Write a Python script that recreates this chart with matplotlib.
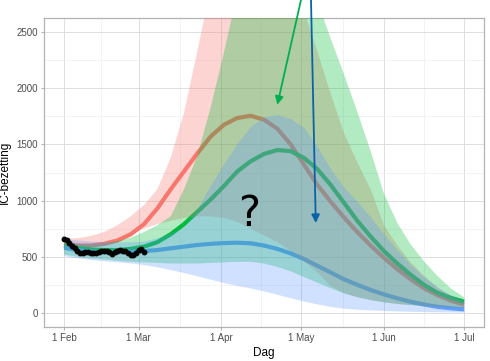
import numpy as np
import matplotlib
matplotlib.use("Agg")
import matplotlib.pyplot as plt
import matplotlib.dates as mdates
from matplotlib.ticker import FixedLocator, MultipleLocator

plt.rcParams['font.family'] = ['Liberation Sans', 'DejaVu Sans']

# x positions: every 5 days from 1 Feb 2021
start = np.datetime64('2021-02-01')
days = np.arange(0, 151, 5)
dates = start + days.astype('timedelta64[D]')

# scenario lines
red_line = [620, 600, 600, 615, 645, 700, 790, 930, 1100, 1260, 1420, 1570, 1675, 1735, 1755, 1720,
            1640, 1500, 1320, 1140, 990, 850, 720, 600, 490, 390, 300, 220, 160, 110, 75]
green_line = [600, 580, 565, 560, 560, 570, 590, 630, 700, 790, 900, 1010, 1130, 1260, 1350, 1415,
              1450, 1440, 1380, 1280, 1140, 980, 820, 680, 550, 440, 340, 250, 180, 135, 100]
blue_line = [580, 560, 545, 540, 540, 545, 550, 560, 575, 590, 605, 615, 622, 625, 620, 600,
             570, 530, 480, 420, 360, 300, 250, 205, 165, 130, 100, 75, 55, 42, 32]

# uncertainty bands
red_lo = [590, 585, 600, 625, 660, 705, 750, 790, 820, 845, 860, 860, 845, 810, 750, 690,
          630, 550, 460, 360, 240, 175, 140, 115, 95, 80, 70, 62, 55, 50, 45]
red_hi = [660, 665, 685, 720, 780, 860, 960, 1100, 1380, 1780, 2330, 2900, 3400, 3800, 4000, 4000,
          3700, 3250, 2690, 2330, 1950, 1600, 1340, 1100, 780, 600, 450, 330, 230, 150, 95]
green_lo = [520, 500, 485, 475, 465, 455, 450, 445, 440, 440, 440, 445, 450, 455, 455, 440,
            410, 370, 320, 270, 220, 175, 140, 115, 95, 80, 70, 62, 55, 50, 45]
green_hi = [630, 615, 610, 620, 640, 670, 720, 780, 860, 1100, 1400, 1830, 2320, 2850, 3300, 3600,
            3700, 3550, 3200, 2780, 2440, 2125, 1790, 1440, 1060, 800, 610, 460, 330, 220, 140]
blue_lo = [510, 490, 475, 465, 455, 445, 430, 410, 385, 360, 330, 300, 270, 245, 222, 195,
           165, 135, 105, 80, 58, 42, 33, 27, 22, 18, 15, 12, 10, 9, 8]
blue_hi = [660, 650, 640, 635, 632, 633, 640, 670, 710, 770, 930, 1140, 1330, 1510, 1660, 1745,
           1765, 1730, 1650, 1480, 1280, 1120, 990, 850, 700, 560, 430, 320, 230, 160, 110]

# observed occupancy, daily from 1 Feb
observed = [660, 645, 625, 600, 575, 550, 535, 538, 545, 540, 535, 538, 532, 540, 548, 552,
            555, 540, 528, 540, 555, 562, 555, 548, 535, 518, 512, 535, 560, 565, 545]
obs_dates = start + np.arange(len(observed)).astype('timedelta64[D]')

cols = ['#F8766D', '#00BA38', '#619CFF']

fig = plt.figure(figsize=(4.9, 3.61), dpi=100)
ax = fig.add_axes([44 / 490, 1 - 327 / 361, 440 / 490, 309 / 361])

for y, c in zip([red_line, green_line, blue_line], cols):
    ax.plot(dates, y, color=c, lw=3.0, solid_capstyle='butt', zorder=2)
for lo, hi, c in zip([red_lo, green_lo, blue_lo], [red_hi, green_hi, blue_hi], cols):
    ax.fill_between(dates, lo, hi, color=c, alpha=0.3, lw=0, zorder=3)

ax.plot(obs_dates, observed, color='black', lw=2.2, marker='o', ms=3.2, zorder=5)

ax.set_ylim(-125, 2625)
ax.set_xlim(start - np.timedelta64(180, 'h'), np.datetime64('2021-07-01') + np.timedelta64(180, 'h'))

month_ticks = [np.datetime64(d) for d in ['2021-02-01', '2021-03-01', '2021-04-01',
                                          '2021-05-01', '2021-06-01', '2021-07-01']]
tick_nums = mdates.date2num(month_ticks)
ax.xaxis.set_major_locator(FixedLocator(tick_nums))
ax.xaxis.set_minor_locator(FixedLocator((tick_nums[:-1] + tick_nums[1:]) / 2))
ax.set_xticklabels(['1 Feb', '1 Mar', '1 Apr', '1 May', '1 Jun', '1 Jul'])
ax.yaxis.set_major_locator(MultipleLocator(500))
ax.yaxis.set_minor_locator(MultipleLocator(250))

ax.grid(which='major', color='#DEDEDE', lw=0.7, zorder=0)
ax.grid(which='minor', color='#EFEFEF', lw=0.5, zorder=0)
ax.set_axisbelow(True)
for s in ax.spines.values():
    s.set_color('#B3B3B3')
    s.set_linewidth(0.9)
ax.tick_params(which='major', color='#B3B3B3', length=2.5, width=0.8,
               labelsize=7, labelcolor='#4D4D4D', pad=2)
ax.tick_params(which='minor', length=0)

ax.set_xlabel('Dag', fontsize=8.5, labelpad=3)
ax.set_ylabel('IC-bezetting', fontsize=8.5, labelpad=4)

ax.text(np.datetime64('2021-04-11T10'), 883, '?', fontsize=30, family='DejaVu Sans',
        ha='center', va='center', zorder=6)

ax.annotate('', xy=(np.datetime64('2021-04-22'), 1853), xycoords='data',
            xytext=(301 / 490, 1.0), textcoords='figure fraction',
            arrowprops=dict(arrowstyle='-|>', color='#00B050', lw=1.3, mutation_scale=12,
                            shrinkA=0, shrinkB=0), annotation_clip=False, zorder=7)
ax.annotate('', xy=(np.datetime64('2021-05-06T10'), 801), xycoords='data',
            xytext=(311 / 490, 1.0), textcoords='figure fraction',
            arrowprops=dict(arrowstyle='-|>', color='#0B62A8', lw=1.3, mutation_scale=12,
                            shrinkA=0, shrinkB=0), annotation_clip=False, zorder=7)

fig.savefig('out.png', dpi=100)
